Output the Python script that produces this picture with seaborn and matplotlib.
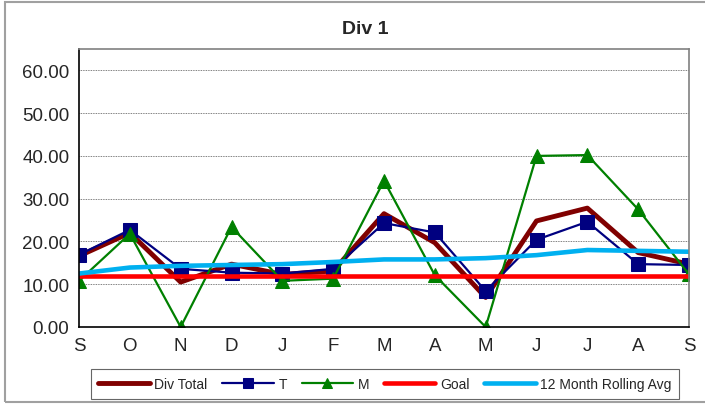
import pandas as pd
import numpy as np
import matplotlib.pyplot as plt
import seaborn as sns
from matplotlib.patches import Rectangle

# Data
months = ["S", "O", "N", "D", "J", "F", "M", "A", "M", "J", "J", "A", "S"]
div_total = [16.6, 22.0, 10.5, 14.7, 12.3, 13.1, 26.5, 19.7, 6.9, 24.8, 27.8, 17.4, 14.7]
t_vals = [16.9, 22.7, 13.6, 12.7, 12.5, 13.6, 24.3, 22.1, 8.4, 20.4, 24.6, 14.7, 14.5]
m_vals = [10.8, 21.8, 0.0, 23.4, 10.8, 11.3, 34.2, 12.1, 0.0, 40.0, 40.2, 27.5, 12.3]
goal = [12.0] * 13
rolling_avg = [12.5, 13.9, 14.3, 14.5, 14.7, 15.2, 15.8, 15.8, 16.1, 16.8, 18.0, 17.8, 17.6]

df = pd.DataFrame({
    "pos": np.arange(len(months)),
    "Div Total": div_total,
    "T": t_vals,
    "M": m_vals,
    "Goal": goal,
    "12 Month Rolling Avg": rolling_avg,
})

sns.set_style("white")
plt.rcParams["font.family"] = ["Liberation Sans", "DejaVu Sans"]

fig = plt.figure(figsize=(7.05, 4.06), dpi=100)
ax = fig.add_axes([79 / 705, 1 - 328 / 406, 610 / 705, 278 / 406])

sns.lineplot(data=df, x="pos", y="Div Total", color="#800000", linewidth=3.5, ax=ax, label="Div Total")
sns.lineplot(data=df, x="pos", y="T", color="#000080", linewidth=1.6, marker="s",
             markersize=10, markeredgecolor="#000080", ax=ax, label="T")
sns.lineplot(data=df, x="pos", y="M", color="#008000", linewidth=1.6, marker="^",
             markersize=10, markeredgecolor="#008000", ax=ax, label="M")
sns.lineplot(data=df, x="pos", y="Goal", color="#FF0000", linewidth=3.3, ax=ax, label="Goal")
sns.lineplot(data=df, x="pos", y="12 Month Rolling Avg", color="#00B0F0", linewidth=3.3,
             ax=ax, label="12 Month Rolling Avg")

ax.set_xlim(0, len(months) - 1)
ax.set_ylim(0, 65)
ax.set_xticks(df["pos"])
ax.set_xticklabels(months)
ax.set_yticks(np.arange(0, 61, 10))
ax.set_yticklabels([f"{v:.2f}" for v in np.arange(0, 61, 10)])
ax.set_xlabel("")
ax.set_ylabel("")
ax.tick_params(axis="both", labelsize=13.5, length=4, width=1, direction="out", color="black")
ax.tick_params(axis="x", pad=3)
ax.tick_params(axis="y", pad=3)
ax.yaxis.grid(True, linestyle=(0, (1, 1)), color="#555555", linewidth=0.6)
ax.xaxis.grid(False)
ax.set_axisbelow(True)

for side in ["left", "bottom"]:
    ax.spines[side].set_color("black")
    ax.spines[side].set_linewidth(1.2)
for side in ["top", "right"]:
    ax.spines[side].set_color("#808080")
    ax.spines[side].set_linewidth(1.2)

fig.text(365 / 705, 1 - 29 / 406, "Div 1", ha="center", va="center",
         fontsize=14, fontweight="bold")

ax.legend_.remove()
handles, labels = ax.get_legend_handles_labels()
leg = fig.legend(handles, labels, ncol=5, loc="center",
                 bbox_to_anchor=(385 / 705, 1 - 385 / 406), fontsize=10,
                 frameon=True, fancybox=False, edgecolor="#404040",
                 handlelength=3.7, handletextpad=0.35, columnspacing=1.05,
                 borderpad=0.55, markerscale=0.7)
leg.get_frame().set_linewidth(0.8)

# outer chart border
fig.patches.append(Rectangle((5 / 705, 3 / 406), 1.0, 400 / 406, transform=fig.transFigure,
                             fill=False, edgecolor="#a0a0a0", linewidth=1.5))

plt.savefig("out.png", dpi=100)
